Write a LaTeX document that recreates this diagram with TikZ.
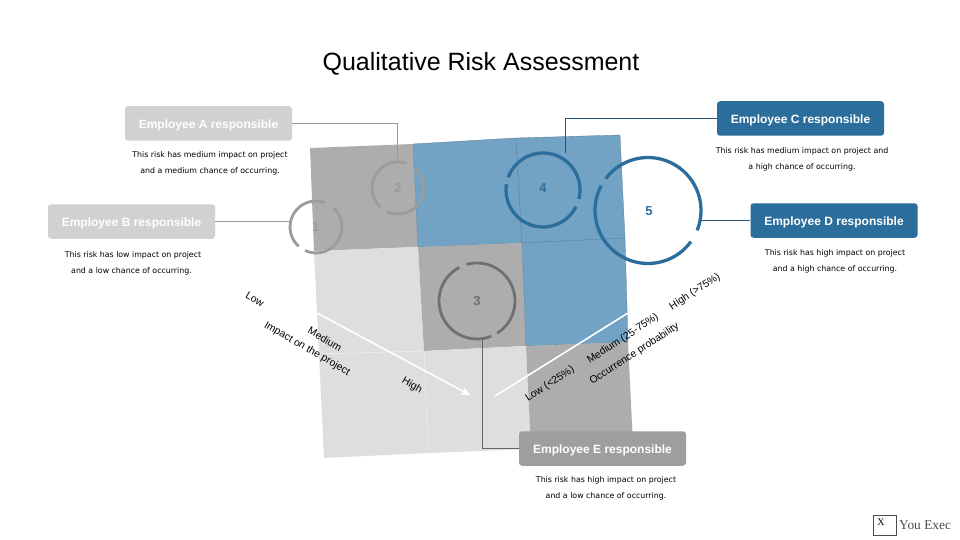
\documentclass[tikz,border=0pt]{standalone}
\usepackage{fontspec}
\setmainfont{Liberation Sans}
\newfontfamily\dejavu{DejaVu Sans}
\newfontfamily\timesf{Liberation Serif}
\usetikzlibrary{arrows.meta}
\definecolor{cellgray}{HTML}{ADADAD}
\definecolor{cellblue}{HTML}{72A2C4}
\definecolor{celllight}{HTML}{DEDEDE}
\definecolor{ringgray}{HTML}{9C9C9C}
\definecolor{ringdark}{HTML}{707070}
\definecolor{ringblue}{HTML}{2C6E9B}
\newcommand\emptext[1]{\raisebox{-1.7pt}[8pt][2pt]{#1}}
\tikzset{
  x=1pt,y=-1pt,
  cellg/.style={fill=cellgray,draw=none},
  cellb/.style={fill=cellblue,draw=cellblue!75!black,line width=.3pt},
  celll/.style={fill=celllight,draw=none},
  empbox/.style={rounded corners=3pt,minimum width=167pt,minimum height=34.5pt,inner sep=0pt,text=white,font=\fontsize{12}{14}\selectfont\bfseries},
  note/.style={font=\dejavu\fontsize{7.85}{9}\selectfont,inner sep=0pt,text=black},
  axisl/.style={font=\fontsize{10.4}{12}\selectfont,inner sep=0pt,text=black,rotate=-30},
  axisr/.style={font=\fontsize{10.4}{12}\selectfont,inner sep=0pt,text=black,rotate=33},
  num/.style={font=\fontsize{13}{15}\selectfont\bfseries,inner sep=0pt},
  ring/.style={line width=2.8pt,line cap=butt},
  ringb/.style={line width=3.3pt,line cap=butt,ringblue},
}
\begin{document}
\begin{tikzpicture}
\useasboundingbox (0,0) rectangle (960,540);
\fill[white] (0,0) rectangle (960,540);
\node[font=\fontsize{25}{29}\selectfont,inner sep=0pt] (title) at (481,63.5) {Qualitative Risk Assessment};
% grid
\filldraw[cellg] (310,148)--(413,144)--(418,247)--(314,251)--cycle;
\filldraw[cellb] (413,144)--(516,138)--(522,243)--(418,247)--cycle;
\filldraw[cellb] (516,138)--(620,135)--(625,238)--(522,243)--cycle;
\filldraw[celll] (314,251)--(418,247)--(424,351)--(319,354)--cycle;
\filldraw[cellg] (418,247)--(522,243)--(526,346)--(424,351)--cycle;
\filldraw[cellb] (522,243)--(625,238)--(628,342)--(526,346)--cycle;
\filldraw[celll] (319,354)--(424,351)--(428,453)--(324,458)--cycle;
\filldraw[celll] (424,351)--(526,346)--(531,449)--(428,453)--cycle;
\filldraw[cellg] (526,346)--(628,342)--(633,445)--(531,449)--cycle;
\draw[black!6,line width=.4pt] (319,354)--(424,351)--(428,453);
% white axes
\coordinate (axA) at (317,313); \coordinate (axB) at (470,395);
\coordinate (axC) at (495,396); \coordinate (axD) at (628,313);
\draw[white,line width=1.6pt,-{Stealth[length=9pt,width=8pt]}] (axA)--(axB);
\draw[white,line width=1.6pt] (axC)--(axD);
% boxes
\node[empbox,fill=black!18] (A) at (208.5,123.5) {\emptext{Employee A responsible}};
\node[empbox,fill=ringblue] (C) at (800.5,118.5) {\emptext{Employee C responsible}};
\node[empbox,fill=black!18] (B) at (131.5,221.5) {\emptext{Employee B responsible}};
\node[empbox,fill=ringblue] (D) at (834,220.5) {\emptext{Employee D responsible}};
\node[empbox,fill=black!38] (E) at (602.5,448.5) {\emptext{Employee E responsible}};
% rings
\coordinate (r1) at (316,227);
\coordinate (r2) at (398,188);
\coordinate (r3) at (477,301);
\coordinate (r4) at (543,190);
\coordinate (r5) at (648,210.5);
\draw[ring,ringgray] (r1) ++(115:26) arc[start angle=115,end angle=-48,radius=26];
\draw[ring,ringgray] (r1) ++(132:26) arc[start angle=132,end angle=290,radius=26];
\draw[ring,ringgray] (r2) ++(115:26) arc[start angle=115,end angle=-48,radius=26];
\draw[ring,ringgray] (r2) ++(132:26) arc[start angle=132,end angle=290,radius=26];
\draw[ring,ringdark] (r3) ++(68:38) arc[start angle=68,end angle=242,radius=38];
\draw[ring,ringdark] (r3) ++(58:38) arc[start angle=58,end angle=-106,radius=38];
\draw[ringb] (r4) ++(27:37) arc[start angle=27,end angle=189,radius=37];
\draw[ringb] (r4) ++(14:37) arc[start angle=14,end angle=-160,radius=37];
\draw[ringb] (r5) ++(36:53) arc[start angle=36,end angle=208,radius=53];
\draw[ringb] (r5) ++(217:53) arc[start angle=217,end angle=382,radius=53];
% connectors
\coordinate (a1) at (397,162);
\coordinate (c1) at (565,153);
\coordinate (b1) at (290,221.5);
\coordinate (d1) at (701,220.5);
\coordinate (e1) at (482,339);
\draw[black!40,line width=.7pt] (A.east) -| (a1);
\draw[ringblue!80!black,line width=.7pt] (C.west) -| (c1);
\draw[black!40,line width=.7pt] (B.east) -- (b1);
\draw[ringblue!80!black,line width=.7pt] (D.west) -- (d1);
\draw[black!60,line width=.7pt] (e1) |- (E.west);
% numbers
\node[num,text=ringgray] (n1) at (316,227) {1};
\node[num,text=ringgray] (n2) at (398,188) {2};
\node[num,text=ringdark] (n3) at (477,301) {3};
\node[num,text=ringblue] (n4) at (543,188) {4};
\node[num,text=ringblue] (n5) at (649,211) {5};
% notes
\node[note] (ta1) at (210,155) {This risk has medium impact on project};
\node[note] (ta2) at (210,171) {and a medium chance of occurring.};
\node[note] (tc1) at (802,151) {This risk has medium impact on project and};
\node[note] (tc2) at (802,167) {a high chance of occurring.};
\node[note] (tb1) at (133,255) {This risk has low impact on project};
\node[note] (tb2) at (131.5,271) {and a low chance of occurring.};
\node[note] (td1) at (835,253) {This risk has high impact on project};
\node[note] (td2) at (835,269) {and a high chance of occurring.};
\node[note] (te1) at (606,480) {This risk has high impact on project};
\node[note] (te2) at (606,496) {and a low chance of occurring.};
% axis labels
\node[axisl] (l1) at (255,299) {Low};
\node[axisl] (l2) at (325,339) {Medium};
\node[axisl] (l3) at (412,386) {High};
\node[axisl] (l4) at (307,349) {Impact on the project};
\node[axisr] (r6) at (550,384) {Low (<25\%)};
\node[axisr] (r7) at (623,339) {Medium (25-75\%)};
\node[axisr] (r8) at (695,292) {High (>75\%)};
\node[axisr] (r9) at (634.5,354) {Occurrence probability};
% logo
\node[draw=black!70,line width=.6pt,minimum width=23pt,minimum height=20pt,inner sep=0pt,anchor=north west] (logo) at (873,515) {};
\node[font=\timesf\fontsize{10}{12}\selectfont,inner sep=0pt] (logox) at (881,522) {X};
\node[font=\timesf\fontsize{13.4}{15}\selectfont,inner sep=0pt,text=black!70,anchor=west] (logot) at (899,525) {You Exec};
\end{tikzpicture}
\end{document}
